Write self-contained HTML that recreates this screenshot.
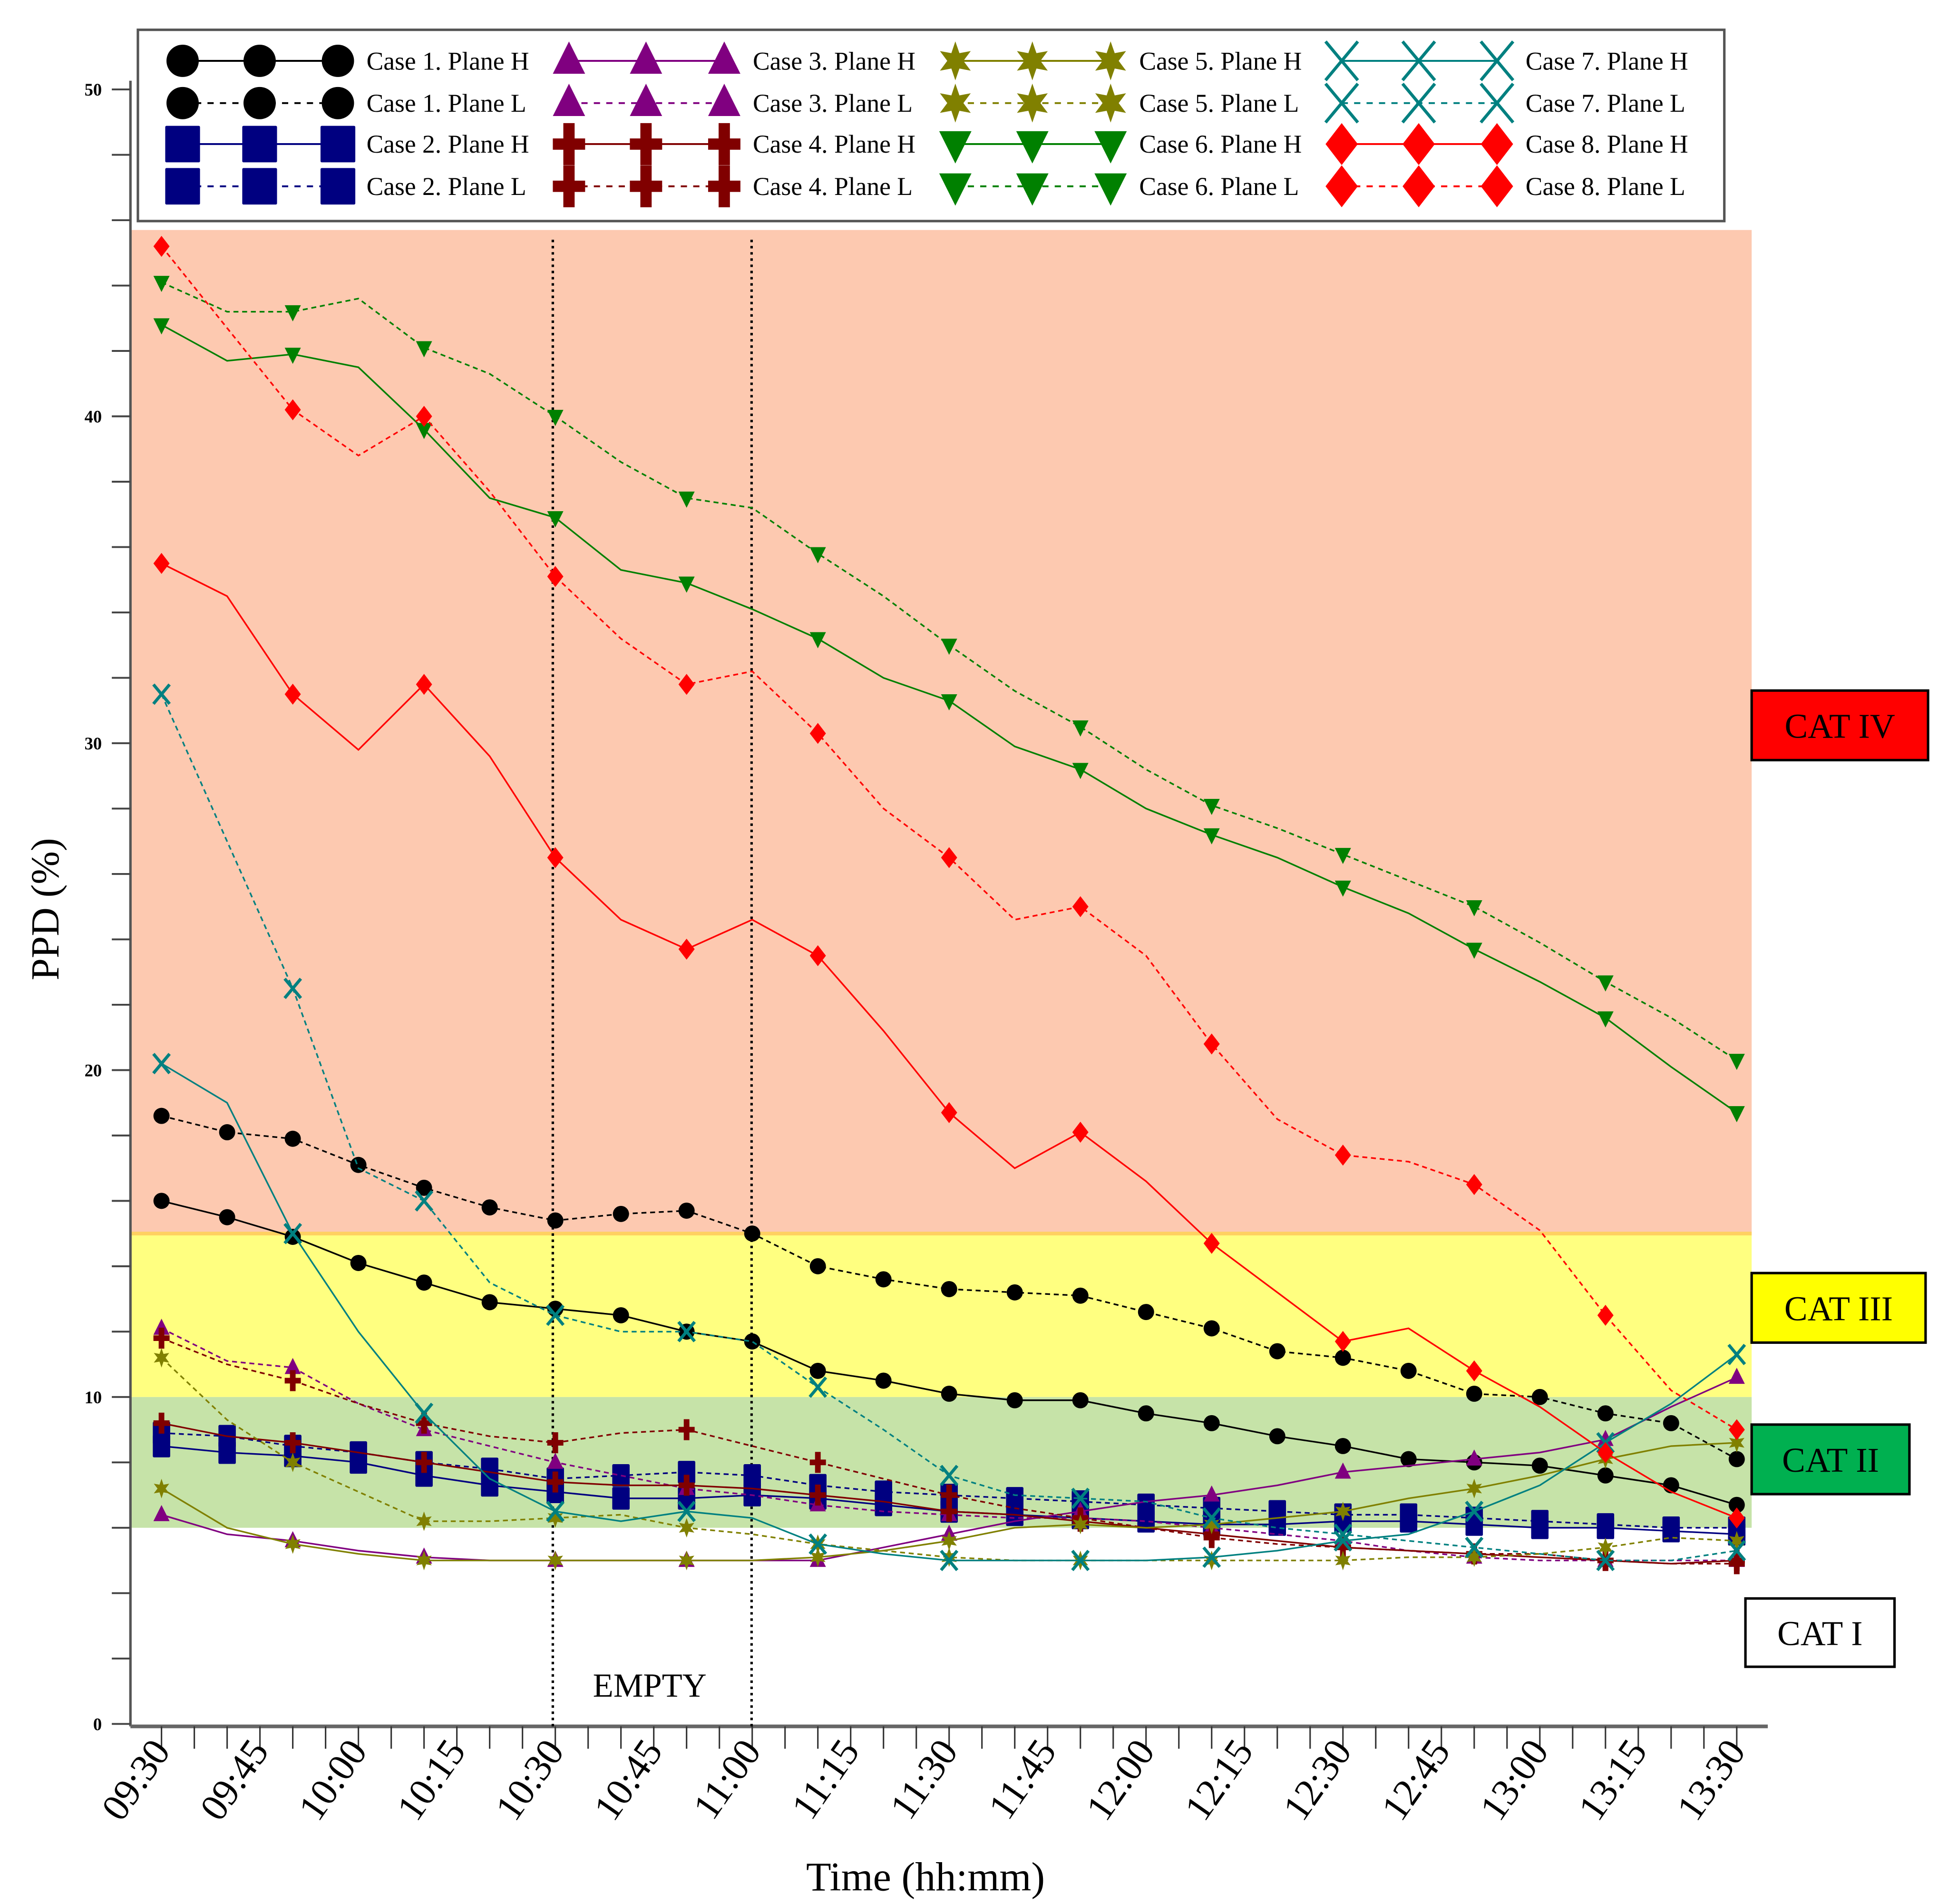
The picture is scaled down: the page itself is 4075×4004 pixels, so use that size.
<!DOCTYPE html>
<html><head><meta charset="utf-8"><style>
html,body{margin:0;padding:0;background:#fff;}
svg{display:block;font-family:"Liberation Serif",serif;}
</style></head><body>
<svg id="chart" width="4075" height="4004" viewBox="0 0 1560 1533" preserveAspectRatio="none" xmlns="http://www.w3.org/2000/svg">
<g id="bands"></g>
<g id="axes"></g>
<g id="series"></g>
<g id="legend"></g>
</svg>
<script>
// ---- data (every 10 min from 09:30 to 13:30) ----
const timeLabels = ["09:30","09:45","10:00","10:15","10:30","10:45","11:00","11:15","11:30","11:45","12:00","12:15","12:30","12:45","13:00","13:15","13:30"];
const yTickLabels = [0,10,20,30,40,50];
const seriesNames = ["Case 1. Plane H","Case 1. Plane L","Case 2. Plane H","Case 2. Plane L","Case 3. Plane H","Case 3. Plane L","Case 4. Plane H","Case 4. Plane L","Case 5. Plane H","Case 5. Plane L","Case 6. Plane H","Case 6. Plane L","Case 7. Plane H","Case 7. Plane L","Case 8. Plane H","Case 8. Plane L"];
const c1H = [16.0,15.5,14.9,14.1,13.5,12.9,12.7,12.5,12.0,11.7,10.8,10.5,10.1,9.9,9.9,9.5,9.2,8.8,8.5,8.1,8.0,7.9,7.6,7.3,6.7];
const c1L = [18.6,18.1,17.9,17.1,16.4,15.8,15.4,15.6,15.7,15.0,14.0,13.6,13.3,13.2,13.1,12.6,12.1,11.4,11.2,10.8,10.1,10.0,9.5,9.2,8.1];
const c2H = [8.5,8.3,8.2,8.0,7.6,7.3,7.1,6.9,6.9,7.0,6.9,6.7,6.5,6.4,6.3,6.2,6.1,6.1,6.2,6.2,6.1,6.0,6.0,5.9,5.8];
const c2L = [8.9,8.8,8.5,8.3,8.0,7.8,7.5,7.6,7.7,7.6,7.3,7.1,7.0,6.9,6.8,6.7,6.6,6.5,6.4,6.4,6.3,6.2,6.1,6.0,6.0];
const c3H = [6.4,5.8,5.6,5.3,5.1,5.0,5.0,5.0,5.0,5.0,5.0,5.4,5.8,6.2,6.5,6.8,7.0,7.3,7.7,7.9,8.1,8.3,8.7,9.7,10.6];
const c3L = [12.1,11.1,10.9,9.8,9.0,8.5,8.0,7.6,7.2,7.0,6.7,6.5,6.4,6.3,6.3,6.2,6.0,5.8,5.6,5.3,5.1,5.0,5.0,5.0,5.0];
const c4H = [9.2,8.8,8.6,8.3,8.0,7.7,7.4,7.3,7.3,7.2,7.0,6.8,6.5,6.4,6.2,6.0,5.8,5.6,5.4,5.3,5.2,5.1,5.0,4.9,5.0];
const c4L = [11.8,11.0,10.5,9.8,9.2,8.8,8.6,8.9,9.0,8.5,8.0,7.5,7.0,6.6,6.3,6.0,5.7,5.5,5.4,5.3,5.2,5.2,5.0,4.9,4.9];
const c5H = [7.2,6.0,5.5,5.2,5.0,5.0,5.0,5.0,5.0,5.0,5.1,5.3,5.6,6.0,6.1,6.0,6.1,6.3,6.5,6.9,7.2,7.6,8.1,8.5,8.6];
const c5L = [11.2,9.3,8.0,7.1,6.2,6.2,6.3,6.4,6.0,5.8,5.5,5.3,5.1,5.0,5.0,5.0,5.0,5.0,5.0,5.1,5.1,5.2,5.4,5.7,5.6];
const c6H = [42.8,41.7,41.9,41.5,39.6,37.5,36.9,35.3,34.9,34.1,33.2,32.0,31.3,29.9,29.2,28.0,27.2,26.5,25.6,24.8,23.7,22.7,21.6,20.1,18.7];
const c6L = [44.1,43.2,43.2,43.6,42.1,41.3,40.0,38.6,37.5,37.2,35.8,34.5,33.0,31.6,30.5,29.2,28.1,27.4,26.6,25.8,25.0,23.9,22.7,21.6,20.3];
const c7H = [20.2,19.0,15.0,12.0,9.5,7.5,6.5,6.2,6.5,6.3,5.5,5.2,5.0,5.0,5.0,5.0,5.1,5.3,5.6,5.8,6.5,7.3,8.6,9.8,11.3];
const c7L = [31.5,27.0,22.5,17.0,16.0,13.5,12.5,12.0,12.0,11.7,10.3,9.0,7.6,7.0,6.9,6.8,6.3,6.0,5.8,5.6,5.4,5.2,5.0,5.0,5.3];
const c8H = [35.5,34.5,31.5,29.8,31.8,29.6,26.5,24.6,23.7,24.6,23.5,21.2,18.7,17.0,18.1,16.6,14.7,13.2,11.7,12.1,10.8,9.7,8.3,7.1,6.3];
const c8L = [45.2,42.7,40.2,38.8,40.0,37.7,35.1,33.2,31.8,32.2,30.3,28.0,26.5,24.6,25.0,23.5,20.8,18.5,17.4,17.2,16.5,15.1,12.5,10.2,9.0];
const bandLimits = [6,10,15,45.7];

const NS="http://www.w3.org/2000/svg";
function mk(tag,attrs,parent){const e=document.createElementNS(NS,tag);for(const k in attrs)e.setAttribute(k,attrs[k]);if(parent)parent.appendChild(e);return e;}
const X0=130,X1=1398, Y0=1388, YPU=26.32;
function xMin(m){return X0+(X1-X0)*m/240;}
function yv(v){return Y0-v*YPU;}

const bands=document.getElementById('bands');
let r;
r=mk('rect',{x:105,y:yv(bandLimits[3]),width:1305,height:yv(bandLimits[2])-yv(bandLimits[3]),fill:'#fdc9b0'},bands);

r=mk('rect',{x:105,y:yv(bandLimits[2]),width:1305,height:yv(bandLimits[1])-yv(bandLimits[2]),fill:'#ffff80'},bands);

r=mk('rect',{x:105,y:yv(bandLimits[1]),width:1305,height:yv(bandLimits[0])-yv(bandLimits[1]),fill:'#c6e3a8'},bands);

mk('line',{x1:105,x2:1410,y1:yv(15),y2:yv(15),stroke:'#ffd060','stroke-width':3},bands);

const axes=document.getElementById('axes');
let a=mk('line',{x1:105,x2:105,y1:65,y2:1390,stroke:'#555','stroke-width':2},axes);

a=mk('line',{x1:105,x2:1423,y1:1390,y2:1390,stroke:'#666','stroke-width':3},axes);

for(let v=0;v<=50;v+=2){mk('line',{x1:90,x2:105,y1:yv(v),y2:yv(v),stroke:'#444','stroke-width':1.5},axes);}
yTickLabels.forEach(v=>{const t=mk('text',{x:82,y:yv(v)+5,'text-anchor':'end','font-size':14,'font-weight':'bold'},axes);t.textContent=v;
});
for(let m=0;m<=240;m+=5){mk('line',{x1:xMin(m),x2:xMin(m),y1:1390,y2:1408,stroke:'#333','stroke-width':1.2},axes);}
timeLabels.forEach((s,i)=>{const x=xMin(i*15)+8,y=1410;const t=mk('text',{x:x,y:y,'text-anchor':'end','font-size':31,transform:`rotate(-55 ${x} ${y})`},axes);t.textContent=s;
});
let t=mk('text',{x:0,y:0,'text-anchor':'middle','font-size':32,transform:'translate(47,732) rotate(-90)'},axes);t.textContent='PPD (%)';

t=mk('text',{x:745,y:1522,'text-anchor':'middle','font-size':33},axes);t.textContent='Time (hh:mm)';

function igx(m){return m===60?-2:-0.5;}
[60,90].forEach(m=>{const l=mk('line',{x1:xMin(m)+igx(m),x2:xMin(m)+igx(m),y1:193,y2:1390,stroke:'#000','stroke-width':2,'stroke-dasharray':'2,3'},axes);
});
t=mk('text',{x:523,y:1366,'text-anchor':'middle','font-size':27},axes);t.textContent='EMPTY';

[["CAT IV",1410,556,142,56,'#ff0000'],["CAT III",1410,1025,140,56,'#ffff00'],["CAT II",1410,1147,127,56,'#00b050'],["CAT I",1405,1287,120,55,'#ffffff']].forEach(c=>{
 const g=mk('g',{},axes);
 mk('rect',{x:c[1],y:c[2],width:c[3],height:c[4],fill:c[5],stroke:'#000','stroke-width':2},g);
 const tt=mk('text',{x:c[1]+c[3]/2,y:c[2]+c[4]/2+10,'text-anchor':'middle','font-size':28},g);tt.textContent=c[0];});

function marker(g,shape,x,y,color,s,sq){
 switch(shape){
 case 'circle':mk('ellipse',{cx:x,cy:y,rx:s,ry:s,fill:color},g);break;
 case 'square':{const h=s*(sq||1.3);mk('rect',{x:x-s,y:y-h,width:2*s,height:2*h,rx:1,fill:color},g);break;}
 case 'tri':mk('polygon',{points:`${x},${y-s*1.2} ${x-s},${y+s*0.8} ${x+s},${y+s*0.8}`,fill:color},g);break;
 case 'tridown':mk('polygon',{points:`${x},${y+s*1.2} ${x-s},${y-s*0.8} ${x+s},${y-s*0.8}`,fill:color},g);break;
 case 'plus':mk('path',{d:`M${x-s} ${y}H${x+s}M${x} ${y-s*1.3}V${y+s*1.3}`,stroke:color,'stroke-width':s*0.7},g);break;
 case 'x':mk('path',{d:`M${x-s} ${y-s*1.2}L${x+s} ${y+s*1.2}M${x+s} ${y-s*1.2}L${x-s} ${y+s*1.2}`,stroke:color,'stroke-width':2.5,fill:'none'},g);break;
 case 'diamond':mk('polygon',{points:`${x},${y-s*1.3} ${x+s},${y} ${x},${y+s*1.3} ${x-s},${y}`,fill:color},g);break;
 case 'star':{let p=[];for(let i=0;i<12;i++){const ang=-Math.PI/2+i*Math.PI/6;const rr=i%2?s*0.5:s*1.1;p.push((x+rr*Math.cos(ang)).toFixed(1)+','+(y+rr*Math.sin(ang)*1.1).toFixed(1));}mk('polygon',{points:p.join(' '),fill:color},g);break;}
 }}

const styles=[['#000','circle'],['#000080','square'],['#800080','tri'],['#800000','plus'],['#808000','star'],['#008000','tridown'],['#008080','x'],['#ff0000','diamond']];
const allData=[c1H,c1L,c2H,c2L,c3H,c3L,c4H,c4L,c5H,c5L,c6H,c6L,c7H,c7L,c8H,c8L];
const sg=document.getElementById('series');
allData.forEach((arr,i)=>{
 const st=styles[Math.floor(i/2)],dashed=i%2===1;
 const g=mk('g',{},sg);
 
 
 const pts=arr.map((v,k)=>xMin(k*10).toFixed(1)+','+yv(v).toFixed(1)).join(' ');
 mk('polyline',{points:pts,fill:'none',stroke:st[0],'stroke-width':1.3,'stroke-dasharray':dashed?'4,3':'none'},g);
 const step=(st[1]==='circle'||st[1]==='square')?1:2;
 arr.forEach((v,k)=>{if(k%step===0)marker(g,st[1],xMin(k*10),yv(v),st[0],st[1]==='square'?7:6.5);});
});

const lg=document.getElementById('legend');

mk('rect',{x:111,y:24,width:1277,height:154,fill:'#fff',stroke:'#555','stroke-width':2},lg);
const colX=[147,458,769,1080],rowY=[49,83,116,150];
seriesNames.forEach((n,i)=>{
 const col=Math.floor(i/4),row=i%4,st=styles[Math.floor(i/2)],dashed=i%2===1;
 const g=mk('g',{},lg);
 const x0=colX[col],y=rowY[row];
 mk('line',{x1:x0,x2:x0+125,y1:y,y2:y,stroke:st[0],'stroke-width':1.5,'stroke-dasharray':dashed?'5,5':'none'},g);
 [0,62,125].forEach(dx=>marker(g,st[1],x0+dx,y,st[0],st[1]==='square'?14:13,1.05));
 const tx=mk('text',{x:x0+148,y:y+7,'font-size':20.5},g);tx.textContent=n;
});
</script>
</body></html>
